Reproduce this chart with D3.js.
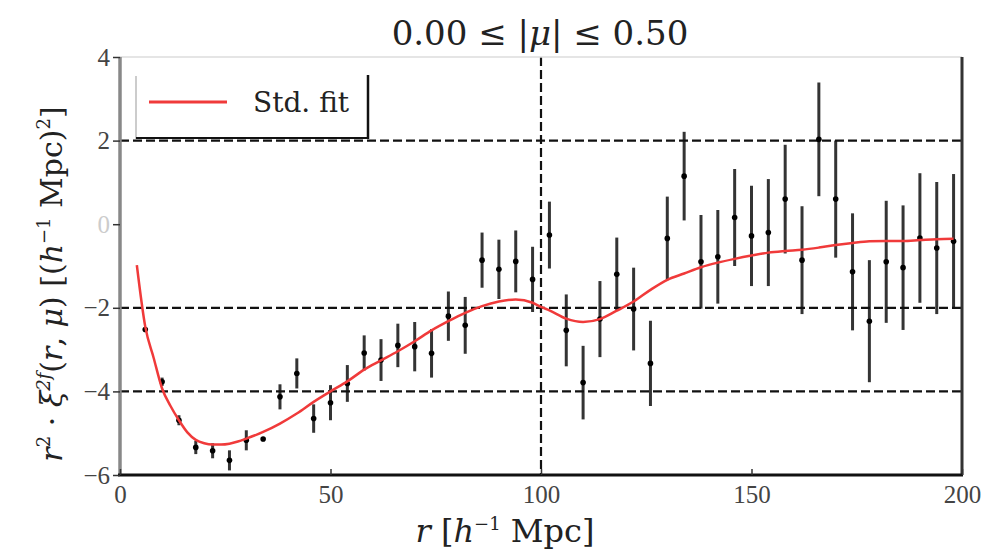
<!DOCTYPE html>
<html>
<head>
<meta charset="utf-8">
<script src="https://cdnjs.cloudflare.com/ajax/libs/d3/7.8.5/d3.min.js"></script>
<style>
  body { margin: 0; background: #fff; }
  svg { font-family: "DejaVu Serif", "Liberation Serif", serif; }
</style>
</head>
<body>
<svg width="1006" height="550"></svg>
<script>
// measured points: separation r, value, error
var rVals = [6, 10, 14, 18, 22, 26, 30, 34, 38, 42, 46, 50, 54, 58, 62, 66, 70, 74, 78, 82,
             86, 90, 94, 98, 102, 106, 110, 114, 118, 122, 126, 130, 134, 138, 142, 146, 150,
             154, 158, 162, 166, 170, 174, 178, 182, 186, 190, 194, 198];
var xiVals = [-2.52, -3.77, -4.69, -5.34, -5.42, -5.65, -5.17, -5.14, -4.13, -3.57, -4.65, -4.27,
              -3.81, -3.08, -3.25, -2.9, -2.93, -3.09, -2.2, -2.42, -0.86, -1.08, -0.89, -1.32,
              -0.26, -2.54, -3.79, -2.27, -1.2, -2.03, -3.33, -0.34, 1.15, -0.9, -0.78, 0.16,
              -0.28, -0.2, 0.6, -0.86, 2.03, 0.6, -1.14, -2.32, -0.9, -1.04, -0.33, -0.57, -0.41];
var errVals = [0.05, 0.1, 0.12, 0.16, 0.18, 0.24, 0.24, 0.05, 0.3, 0.36, 0.34, 0.42, 0.44, 0.42,
               0.5, 0.52, 0.59, 0.58, 0.59, 0.68, 0.66, 0.71, 0.74, 0.78, 0.8, 0.86, 0.88, 0.91,
               0.88, 0.99, 1.02, 1.0, 1.06, 1.12, 1.12, 1.16, 1.2, 1.28, 1.3, 1.29, 1.36, 1.4,
               1.4, 1.46, 1.46, 1.49, 1.55, 1.58, 1.61];

// standard fit curve
var fitR = [4, 6, 8, 10, 12, 14, 16, 18, 20, 22, 24, 26, 28, 30, 34, 38, 42, 46, 50, 54, 58,
            62, 66, 70, 74, 78, 82, 86, 90, 94, 98, 100, 102, 106, 110, 114, 118, 122, 126, 130,
            134, 138, 142, 146, 150, 154, 158, 162, 166, 170, 174, 178, 182, 186, 190, 194, 198];
var fitV = [-0.98, -2.45, -3.2, -3.93, -4.35, -4.69, -4.98, -5.16, -5.24, -5.27, -5.27,
            -5.25, -5.2, -5.13, -4.97, -4.77, -4.53, -4.25, -4.0, -3.76, -3.48, -3.26, -3.04,
            -2.8, -2.54, -2.32, -2.12, -1.96, -1.85, -1.8, -1.88, -1.98, -2.06, -2.26, -2.34,
            -2.27, -2.07, -1.85, -1.57, -1.33, -1.18, -1.03, -0.92, -0.83, -0.75, -0.68, -0.64,
            -0.61, -0.56, -0.5, -0.45, -0.41, -0.4, -0.4, -0.38, -0.36, -0.35];

var xTicks = [0, 50, 100, 150, 200];
var yTicks = [4, 2, 0, -2, -4, -6];
var hLines = [2, -2, -4];
var vLines = [100];

var svg = d3.select("svg");
var PLOT_LEFT = 120, PLOT_RIGHT = 962, PLOT_TOP = 57, PLOT_BOTTOM = 475;

var x = d3.scaleLinear().domain([0, 200]).range([PLOT_LEFT, PLOT_RIGHT]);
var y = d3.scaleLinear().domain([-6, 4]).range([PLOT_BOTTOM, PLOT_TOP]);

// dashed reference lines
svg.append("g")
    .selectAll("line")
    .data(hLines)
    .enter().append("line")
    .attr("x1", PLOT_LEFT).attr("x2", PLOT_RIGHT)
    .attr("y1", function(d) { return y(d); })
    .attr("y2", function(d) { return y(d); })
    .attr("stroke", "#111")
    .attr("stroke-width", 2.2)
    .attr("stroke-dasharray", "9,4");

svg.append("g")
    .selectAll("line")
    .data(vLines)
    .enter().append("line")
    .attr("y1", PLOT_TOP).attr("y2", PLOT_BOTTOM)
    .attr("x1", function(d) { return x(d); })
    .attr("x2", function(d) { return x(d); })
    .attr("stroke", "#111")
    .attr("stroke-width", 2.2)
    .attr("stroke-dasharray", "9,4");

// error bars
var pts = rVals.map(function(r, i) { return {r: r, v: xiVals[i], e: errVals[i]}; });

svg.append("g")
    .selectAll("line")
    .data(pts)
    .enter().append("line")
    .attr("x1", function(d) { return x(d.r); })
    .attr("x2", function(d) { return x(d.r); })
    .attr("y1", function(d) { return y(d.v - d.e); })
    .attr("y2", function(d) { return y(d.v + d.e); })
    .attr("stroke", "#111")
    .attr("stroke-opacity", 0.85)
    .attr("stroke-width", 3);

svg.append("g")
    .selectAll("circle")
    .data(pts)
    .enter().append("circle")
    .attr("cx", function(d) { return x(d.r); })
    .attr("cy", function(d) { return y(d.v); })
    .attr("r", 2.8)
    .attr("fill", "#000");

// fit line
var line = d3.line()
    .x(function(d, i) { return x(fitR[i]); })
    .y(function(d) { return y(d); })
    .curve(d3.curveMonotoneX);

svg.append("path")
    .attr("d", line(fitV))
    .attr("fill", "none")
    .attr("stroke", "#f03a3a")
    .attr("stroke-width", 2.5);

// frame
svg.append("line").attr("x1", PLOT_LEFT).attr("x2", PLOT_RIGHT).attr("y1", PLOT_TOP).attr("y2", PLOT_TOP)
    .attr("stroke", "#ddd").attr("stroke-width", 1.5);
svg.append("line").attr("x1", PLOT_RIGHT).attr("x2", PLOT_RIGHT).attr("y1", PLOT_TOP).attr("y2", PLOT_BOTTOM)
    .attr("stroke", "#333").attr("stroke-width", 3);
svg.append("line").attr("x1", PLOT_LEFT).attr("x2", PLOT_LEFT).attr("y1", PLOT_TOP).attr("y2", PLOT_BOTTOM)
    .attr("stroke", "#888").attr("stroke-width", 3.5);
svg.append("line").attr("x1", PLOT_LEFT - 2).attr("x2", PLOT_RIGHT + 1).attr("y1", PLOT_BOTTOM).attr("y2", PLOT_BOTTOM)
    .attr("stroke", "#111").attr("stroke-width", 3);

// axes
var xAxis = d3.axisBottom(x).tickValues(xTicks).tickSize(-6).tickPadding(10)
    .tickFormat(d3.format("d"));
var gx = svg.append("g").attr("transform", "translate(0," + PLOT_BOTTOM + ")").call(xAxis);
gx.select(".domain").remove();
gx.selectAll("line").attr("stroke", "#333").attr("stroke-width", 1.5);
gx.selectAll("text").attr("font-size", 25).attr("fill", "#444")
    .attr("font-family", "Liberation Serif");

var yAxis = d3.axisLeft(y).tickValues(yTicks).tickSize(7).tickPadding(3)
    .tickFormat(function(d) { return d < 0 ? "\u2212" + (-d) : d; });
var gy = svg.append("g").attr("transform", "translate(" + PLOT_LEFT + ",0)").call(yAxis);
gy.select(".domain").remove();
gy.selectAll("line").attr("stroke", "#333").attr("stroke-width", 1.5);
gy.selectAll("text").attr("font-size", 25)
    .attr("fill", function(d) { return d === 0 ? "#ccc" : "#444"; })
    .attr("font-family", "Liberation Serif");

// legend
var lg = svg.append("g");
lg.append("line").attr("x1", 136).attr("x2", 136).attr("y1", 76).attr("y2", 139)
    .attr("stroke", "#bbb").attr("stroke-width", 1.5);
lg.append("line").attr("x1", 136).attr("x2", 368).attr("y1", 138).attr("y2", 138)
    .attr("stroke", "#111").attr("stroke-width", 2);
lg.append("line").attr("x1", 368).attr("x2", 368).attr("y1", 75).attr("y2", 139)
    .attr("stroke", "#111").attr("stroke-width", 2.5);
lg.append("line").attr("x1", 149).attr("x2", 227).attr("y1", 102).attr("y2", 102)
    .attr("stroke", "#f03a3a").attr("stroke-width", 3);
lg.append("text").attr("x", 253).attr("y", 112).attr("font-size", 28).attr("fill", "#222")
    .text("Std. fit");

// title
var title = svg.append("text").attr("x", 540).attr("y", 45).attr("text-anchor", "middle")
    .attr("font-size", 34).attr("fill", "#222");
title.append("tspan").text("0.00 \u2264 |");
title.append("tspan").attr("font-style", "italic").text("\u03bc");
title.append("tspan").text("| \u2264 0.50");

// x label
var xl = svg.append("text").attr("x", 505).attr("y", 542).attr("text-anchor", "middle")
    .attr("font-size", 32).attr("fill", "#222");
xl.append("tspan").attr("font-style", "italic").text("r");
xl.append("tspan").text(" [");
xl.append("tspan").attr("font-style", "italic").text("h");
xl.append("tspan").attr("font-size", 18).attr("dy", -12).text("\u22121");
xl.append("tspan").attr("dy", 12).text(" Mpc]");

// y label
var yl = svg.append("text").attr("transform", "translate(62,284) rotate(-90)")
    .attr("text-anchor", "middle").attr("font-size", 30).attr("fill", "#222");
yl.append("tspan").attr("font-style", "italic").text("r");
yl.append("tspan").attr("font-size", 18).attr("dy", -12).text("2");
yl.append("tspan").attr("dy", 12).text(" \u00b7 ");
yl.append("tspan").attr("font-style", "italic").text("\u03be");
yl.append("tspan").attr("font-size", 18).attr("dy", -12).attr("font-style", "italic").text("2f");
yl.append("tspan").attr("dy", 12).text("(");
yl.append("tspan").attr("font-style", "italic").text("r");
yl.append("tspan").text(", ");
yl.append("tspan").attr("font-style", "italic").text("\u03bc");
yl.append("tspan").text(") [(");
yl.append("tspan").attr("font-style", "italic").text("h");
yl.append("tspan").attr("font-size", 18).attr("dy", -12).text("\u22121");
yl.append("tspan").attr("dy", 12).text(" Mpc)");
yl.append("tspan").attr("font-size", 18).attr("dy", -12).text("2");
yl.append("tspan").attr("dy", 12).text("]");
</script>
</body>
</html>
